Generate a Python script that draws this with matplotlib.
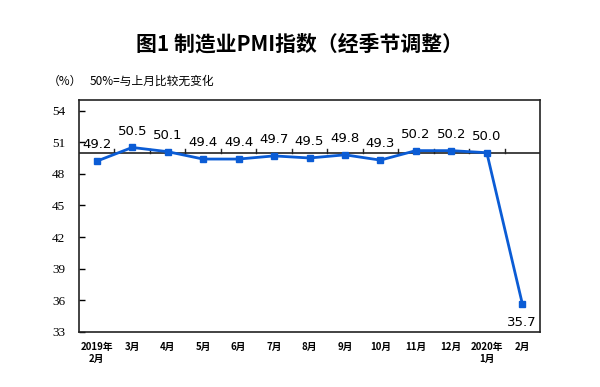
import matplotlib
matplotlib.use("Agg")
import matplotlib.pyplot as plt

plt.rcParams['font.family'] = ['Noto Sans CJK SC', 'DejaVu Sans']

months = ["2019年\n2月", "3月", "4月", "5月", "6月", "7月", "8月", "9月", "10月",
          "11月", "12月", "2020年\n1月", "2月"]
pmi = [49.2, 50.5, 50.1, 49.4, 49.4, 49.7, 49.5, 49.8, 49.3, 50.2, 50.2, 50.0, 35.7]
yticks = [33, 36, 39, 42, 45, 48, 51, 54]
baseline = 50

fig = plt.figure(figsize=(6, 3.87), dpi=100)
ax = fig.add_axes([79/600, 1-332/387, (540-79)/600, (332-100)/387])

x = list(range(len(pmi)))
color = '#0B5CD5'
ax.plot(x, pmi, color=color, lw=2, marker='s', ms=4.5, zorder=3)

ax.set_xlim(-0.5, len(pmi)-0.5)
ax.set_ylim(33, 55)

# baseline with boundary ticks
ax.axhline(baseline, color='#222222', lw=1.2, zorder=2)
for b in range(1, len(pmi)):
    ax.plot([b-0.5, b-0.5], [baseline, baseline+0.4], color='#222222', lw=1, zorder=2)

for i, v in enumerate(pmi):
    if i == len(pmi)-1:
        ax.annotate(f"{v:.1f}", (i, v), xytext=(0, -9), textcoords='offset points',
                    ha='center', va='top', fontsize=9.5, family='DejaVu Sans')
    else:
        ax.annotate(f"{v:.1f}", (i, v), xytext=(0, 7), textcoords='offset points',
                    ha='center', va='bottom', fontsize=9.5, family='DejaVu Sans')

ax.set_yticks(yticks)
ax.set_yticklabels([str(t) for t in yticks], family='Liberation Serif', fontsize=9.5)
ax.tick_params(axis='y', direction='in', length=4, width=1, pad=10)
ax.set_xticks(x)
ax.set_xticklabels(months, fontsize=7, fontweight='bold', linespacing=1.3)
ax.tick_params(axis='x', length=0, pad=7)
for lab in ax.get_xticklabels():
    lab.set_verticalalignment('top')

for s in ax.spines.values():
    s.set_color('#222222')
    s.set_linewidth(1.2)

fig.text(0.5, 1-44/387, "图1 制造业PMI指数（经季节调整）", ha='center', va='center',
         fontsize=15, fontweight='bold')
fig.text(48/600, 1-81/387, "（%）", ha='left', va='center', fontsize=8.5)
fig.text(90/600, 1-81/387, "50%=与上月比较无变化", ha='left', va='center', fontsize=8.5)

fig.savefig("out.png", dpi=100)
